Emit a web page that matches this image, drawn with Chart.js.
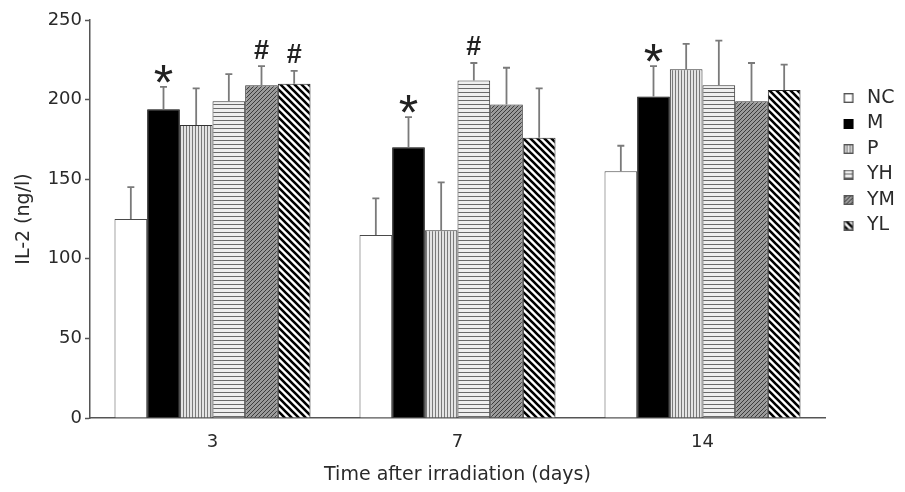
<!DOCTYPE html>
<html>
<head>
<meta charset="utf-8">
<script src="https://cdn.jsdelivr.net/npm/chart.js@4"></script>
<style>
  html, body { margin: 0; padding: 0; background: #fff; }
  #wrap { width: 905px; height: 492px; position: relative; }
</style>
</head>
<body>
<div id="wrap"><canvas id="c"></canvas></div>
<script>
// ---- data ----
const categories = ['3', '7', '14'];
const seriesNames = ['NC', 'M', 'P', 'YH', 'YM', 'YL'];

const NC = [125, 115, 155];
const M  = [194, 170, 202];
const P  = [184, 118, 219];
const YH = [199, 212, 209];
const YM = [209, 197, 199];
const YL = [210, 176, 206];

const NC_err = [20, 23, 16];
const M_err  = [14, 19, 19];
const P_err  = [23, 30, 16];
const YH_err = [17, 11, 28];
const YM_err = [12, 23, 24];
const YL_err = [8, 31, 16];

const NC_mark = ['', '', ''];
const M_mark  = ['*', '*', '*'];
const P_mark  = ['', '', ''];
const YH_mark = ['', '#', ''];
const YM_mark = ['#', '', ''];
const YL_mark = ['#', '', ''];

const yTicks = [0, 50, 100, 150, 200, 250];

// ---- styling helpers ----
function makePattern(kind) {
  const c = document.createElement('canvas');
  const g = c.getContext('2d');
  if (kind === 'white') {
    c.width = 2; c.height = 2; g.fillStyle = '#ffffff'; g.fillRect(0, 0, 2, 2);
  } else if (kind === 'black') {
    c.width = 2; c.height = 2; g.fillStyle = '#000000'; g.fillRect(0, 0, 2, 2);
  } else if (kind === 'vert') {
    c.width = 3; c.height = 3;
    g.fillStyle = '#e4e4e4'; g.fillRect(0, 0, 3, 3);
    g.fillStyle = '#7a7a7a'; g.fillRect(0, 0, 1, 3);
  } else if (kind === 'horiz') {
    c.width = 4; c.height = 4;
    g.fillStyle = '#efefef'; g.fillRect(0, 0, 4, 4);
    g.fillStyle = '#6a6a6a'; g.fillRect(0, 0, 4, 1);
  } else if (kind === 'fine') {
    c.width = 4; c.height = 4;
    g.fillStyle = '#9a9a9a'; g.fillRect(0, 0, 4, 4);
    g.strokeStyle = '#3c3c3c'; g.lineWidth = 1;
    g.beginPath();
    for (const off of [-4, 0, 4]) { g.moveTo(off - 1, 5); g.lineTo(off + 5, -1); }
    g.stroke();
  } else if (kind === 'diag') {
    c.width = 7; c.height = 7;
    g.fillStyle = '#ffffff'; g.fillRect(0, 0, 7, 7);
    g.strokeStyle = '#000000'; g.lineWidth = 2.6;
    g.beginPath();
    for (const off of [-7, 0, 7]) { g.moveTo(off - 1, -1); g.lineTo(off + 8, 8); }
    g.stroke();
  }
  return g.createPattern(c, 'repeat');
}

const kinds = ['white', 'black', 'vert', 'horiz', 'fine', 'diag'];
const borders = ['#4a4a4a', '#000000', '#333333', '#333333', '#333333', '#222222'];
const fills = kinds.map(makePattern);

function makeIcon(i) {
  const c = document.createElement('canvas');
  c.width = 26; c.height = 10;
  const g = c.getContext('2d');
  g.fillStyle = fills[i];
  g.fillRect(12, 0, 10, 10);
  g.strokeStyle = i === 1 ? '#000' : '#555';
  g.lineWidth = 1.4;
  g.strokeRect(12.7, 0.7, 8.6, 8.6);
  return c;
}
const icons = seriesNames.map((_, i) => makeIcon(i));

const values = [NC, M, P, YH, YM, YL];
const errors = [NC_err, M_err, P_err, YH_err, YM_err, YL_err];
const marks  = [NC_mark, M_mark, P_mark, YH_mark, YM_mark, YL_mark];

const datasets = seriesNames.map((name, i) => ({
  label: name,
  data: values[i],
  errors: errors[i],
  marks: marks[i],
  backgroundColor: fills[i],
  borderColor: borders[i],
  borderWidth: 1,
  categoryPercentage: 0.8,
  barPercentage: 1.0
}));

const FONT = 'DejaVu Sans';

const errorPlugin = {
  id: 'errorBars',
  afterDatasetsDraw(chart) {
    const ctx = chart.ctx;
    const yScale = chart.scales.y;
    ctx.save();
    chart.data.datasets.forEach((ds, i) => {
      const meta = chart.getDatasetMeta(i);
      meta.data.forEach((bar, j) => {
        const v = ds.data[j];
        const e = ds.errors[j];
        const yTop = yScale.getPixelForValue(v + e);
        ctx.strokeStyle = '#7a7a7a';
        ctx.lineWidth = 1.8;
        ctx.beginPath();
        ctx.moveTo(bar.x, bar.y);
        ctx.lineTo(bar.x, yTop);
        ctx.moveTo(bar.x - 3.5, yTop);
        ctx.lineTo(bar.x + 3.5, yTop);
        ctx.stroke();
        const m = ds.marks[j];
        if (m) {
          const isStar = m === '*';
          ctx.font = isStar ? '50px "Liberation Sans"' : 'bold 27px "Liberation Sans"';
          ctx.fillStyle = '#222';
          ctx.textAlign = 'center';
          ctx.textBaseline = 'alphabetic';
          const mt = ctx.measureText(m);
          const center = yTop - (isStar ? 13 : 17);
          const base = center + (mt.actualBoundingBoxAscent - mt.actualBoundingBoxDescent) / 2;
          ctx.fillText(m, bar.x, base);
        }
      });
    });
    ctx.restore();
  }
};

new Chart(document.getElementById('c'), {
  type: 'bar',
  data: { labels: categories, datasets },
  plugins: [errorPlugin],
  options: {
    responsive: true,
    maintainAspectRatio: false,
    animation: false,
    layout: { padding: { top: 20, right: 0, bottom: 0, left: 0 } },
    plugins: {
      tooltip: { enabled: false },
      legend: {
        position: 'right',
        align: 'start',
        title: { display: true, text: '', font: { size: 10 }, padding: { top: 50, bottom: 0 } },
        labels: {
          usePointStyle: true,
          pointStyleWidth: 26,
          boxHeight: 10,
          padding: 6.5,
          color: '#333',
          font: { family: FONT, size: 19 },
          generateLabels(chart) {
            return chart.data.datasets.map((ds, i) => ({
              text: ds.label,
              pointStyle: icons[i],
              fillStyle: fills[i],
              strokeStyle: borders[i],
              fontColor: '#2a2a2a',
              lineWidth: 0,
              hidden: false,
              datasetIndex: i
            }));
          }
        }
      }
    },
    scales: {
      x: {
        afterFit(scale) { scale.height = 74; },
        grid: { display: true, drawOnChartArea: false, drawTicks: false },
        border: { color: '#555', width: 1.5 },
        ticks: { color: '#2a2a2a', padding: 14, font: { family: FONT, size: 18 } },
        title: {
          display: true,
          text: 'Time after irradiation (days)',
          color: '#2a2a2a',
          font: { family: FONT, size: 19 },
          padding: { top: 0, bottom: 5.6 }
        }
      },
      y: {
        min: 0,
        max: 250,
        afterFit(scale) { scale.width = 90; },
        afterBuildTicks(scale) { scale.ticks = yTicks.map(v => ({ value: v })); },
        grid: { drawOnChartArea: false, tickLength: 5, tickColor: '#555', tickWidth: 1.5 },
        border: { color: '#555', width: 1.5 },
        ticks: { color: '#2a2a2a', padding: 3, font: { family: FONT, size: 18 } },
        title: {
          display: true,
          text: 'IL-2 (ng/l)',
          color: '#2a2a2a',
          font: { family: FONT, size: 19 },
          padding: { top: 13, bottom: 0 }
        }
      }
    }
  }
});
</script>
</body>
</html>
